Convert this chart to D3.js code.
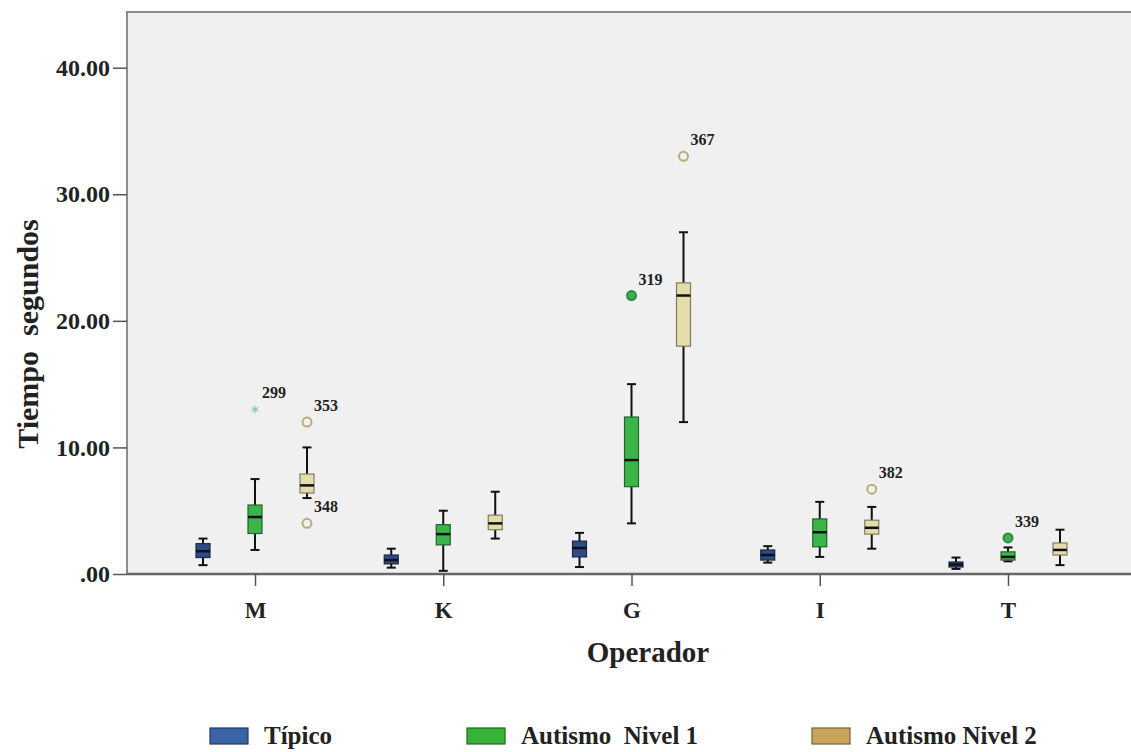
<!DOCTYPE html>
<html>
<head>
<meta charset="utf-8">
<script src="https://cdn.jsdelivr.net/npm/d3@7"></script>
<style>
  body { margin: 0; background: #fff; }
  text { font-family: "Liberation Serif", "Times New Roman", serif; font-weight: bold; }
</style>
</head>
<body>
<svg id="chart" width="1131" height="752"></svg>
<script>
// operadores y grupos
const operadores = ['M', 'K', 'G', 'I', 'T'];
const grupos = ['Típico', 'Autismo  Nivel 1', 'Autismo Nivel 2'];

// [min, q1, mediana, q3, max] por operador
const tipico = [
    [0.7, 1.3, 1.8, 2.4, 2.8],
    [0.5, 0.8, 1.1, 1.5, 2.0],
    [0.55, 1.35, 2.05, 2.6, 3.25],
    [0.9, 1.1, 1.5, 1.9, 2.2],
    [0.4, 0.55, 0.75, 0.95, 1.3]
];
const nivel1 = [
    [1.9, 3.2, 4.5, 5.45, 7.5],
    [0.25, 2.3, 3.15, 3.9, 5.0],
    [4.0, 6.9, 9.0, 12.4, 15.0],
    [1.35, 2.15, 3.3, 4.35, 5.7],
    [1.0, 1.1, 1.35, 1.75, 2.1]
];
const nivel2 = [
    [6.0, 6.4, 7.0, 7.9, 10.0],
    [2.8, 3.5, 4.0, 4.65, 6.5],
    [12.0, 18.0, 22.0, 23.0, 27.0],
    [2.0, 3.15, 3.65, 4.25, 5.3],
    [0.7, 1.5, 1.9, 2.45, 3.5]
];
// valores atipicos
const atipicos = [
    {op: 'M', g: 1, v: 13.0, id: '299', tipo: 'extremo'},
    {op: 'M', g: 2, v: 12.0, id: '353', tipo: 'circulo'},
    {op: 'M', g: 2, v: 4.0, id: '348', tipo: 'circulo'},
    {op: 'G', g: 1, v: 22.0, id: '319', tipo: 'circulo'},
    {op: 'G', g: 2, v: 33.0, id: '367', tipo: 'circulo'},
    {op: 'I', g: 2, v: 6.7, id: '382', tipo: 'circulo'},
    {op: 'T', g: 1, v: 2.85, id: '339', tipo: 'circulo'}
];
const yTicks = [0, 10, 20, 30, 40];

const colores = {
    caja: ['#2d4b86', '#3bb54a', '#e4dcaa'],
    leyenda: ['#3a62a6', '#37b437', '#c9a55c'],
    atipico: ['#2d4b86', '#2a8a45', '#b7ad7c']
};

const svg = d3.select('#chart');
const plot = {left: 127, top: 12, right: 1131, bottom: 574};

const y = d3.scaleLinear().domain([0, 44.4]).range([plot.bottom, plot.top]);
const x = d3.scalePoint().domain(operadores).range([255, 1008]);
const xg = d3.scalePoint().domain([0, 1, 2]).range([-52, 52]);
const boxW = 14, capW = 9;

// fondo del area
svg.append('rect')
    .attr('x', plot.left).attr('y', plot.top)
    .attr('width', plot.right - plot.left + 5).attr('height', plot.bottom - plot.top)
    .attr('fill', '#f0f0f0').attr('stroke', '#8c8c8c').attr('stroke-width', 2);

// eje y
const yAxis = svg.append('g').attr('transform', 'translate(' + plot.left + ',0)')
    .call(d3.axisLeft(y).tickValues(yTicks).tickSize(14)
        .tickFormat(d => d === 0 ? '.00' : d3.format('.2f')(d)));
yAxis.select('.domain').remove();
yAxis.selectAll('line').attr('stroke', '#555').attr('stroke-width', 1.5);
yAxis.selectAll('text').attr('font-size', 24).attr('fill', '#222').attr('x', -17);

// eje x
const xAxis = svg.append('g').attr('transform', 'translate(0,' + plot.bottom + ')')
    .call(d3.axisBottom(x).tickSize(12).tickSizeOuter(0));
xAxis.select('.domain').attr('d', 'M' + plot.left + ',0H' + (plot.right + 5))
    .attr('stroke', '#666').attr('stroke-width', 2.5);
xAxis.selectAll('line').attr('stroke', '#555').attr('stroke-width', 1.5);
xAxis.selectAll('text').attr('font-size', 23).attr('fill', '#222')
    .attr('y', 44).attr('dy', 0);

// titulos
svg.append('text').attr('x', 648).attr('y', 662).attr('text-anchor', 'middle')
    .attr('font-size', 29).attr('fill', '#222').text('Operador');
svg.append('text').attr('transform', 'translate(38,' + 334 + ') rotate(-90)')
    .attr('text-anchor', 'middle').attr('font-size', 30).attr('fill', '#222')
    .style('white-space', 'pre').text('Tiempo  segundos');

// cajas
const series = [tipico, nivel1, nivel2];
const datos = [];
series.forEach((s, g) => s.forEach((d, i) => datos.push({op: operadores[i], g: g, s: d})));

const cajas = svg.selectAll('.caja').data(datos).enter().append('g')
    .attr('class', 'caja')
    .attr('transform', d => 'translate(' + (x(d.op) + xg(d.g)) + ',0)');

cajas.append('line')
    .attr('y1', d => y(d.s[0])).attr('y2', d => y(d.s[4]))
    .attr('stroke', '#111').attr('stroke-width', 2);
cajas.selectAll('.cap').data(d => [d.s[0], d.s[4]]).enter().append('line')
    .attr('x1', -capW / 2).attr('x2', capW / 2)
    .attr('y1', d => y(d)).attr('y2', d => y(d))
    .attr('stroke', '#111').attr('stroke-width', 2);
cajas.append('rect')
    .attr('x', -boxW / 2).attr('width', boxW)
    .attr('y', d => y(d.s[3])).attr('height', d => y(d.s[1]) - y(d.s[3]))
    .attr('fill', d => colores.caja[d.g])
    .attr('stroke', d => d3.color(colores.caja[d.g]).darker(1.6)).attr('stroke-width', 1.2);
cajas.append('line')
    .attr('x1', -boxW / 2).attr('x2', boxW / 2)
    .attr('y1', d => y(d.s[2])).attr('y2', d => y(d.s[2]))
    .attr('stroke', '#111').attr('stroke-width', 2.5);

// atipicos
const at = svg.selectAll('.atipico').data(atipicos).enter().append('g')
    .attr('class', 'atipico')
    .attr('transform', d => 'translate(' + (x(d.op) + xg(d.g)) + ',' + y(d.v) + ')');
at.filter(d => d.tipo === 'circulo').append('circle')
    .attr('r', 4.5)
    .attr('fill', d => d.g === 1 ? '#3bb54a' : 'none')
    .attr('stroke', d => colores.atipico[d.g]).attr('stroke-width', 2);
at.filter(d => d.tipo === 'extremo').append('path')
    .attr('d', d3.symbol(d3.symbolAsterisk, 40))
    .attr('stroke', '#7fcfa3').attr('stroke-width', 1.2).attr('fill', 'none');
at.append('text').attr('x', 7).attr('y', -11)
    .attr('font-size', 16).attr('fill', '#222').text(d => d.id);

// leyenda
const leyendaX = [210, 467, 812];
const ley = svg.selectAll('.leyenda').data(grupos).enter().append('g')
    .attr('class', 'leyenda')
    .attr('transform', (d, i) => 'translate(' + leyendaX[i] + ',728)');
ley.append('rect').attr('width', 38).attr('height', 16)
    .attr('fill', (d, i) => colores.leyenda[i])
    .attr('stroke', (d, i) => d3.color(colores.leyenda[i]).darker(1.5)).attr('stroke-width', 1.2);
ley.append('text').attr('x', 54).attr('y', 16)
    .attr('font-size', 25).attr('fill', '#222')
    .style('white-space', 'pre').text(d => d);
</script>
</body>
</html>
